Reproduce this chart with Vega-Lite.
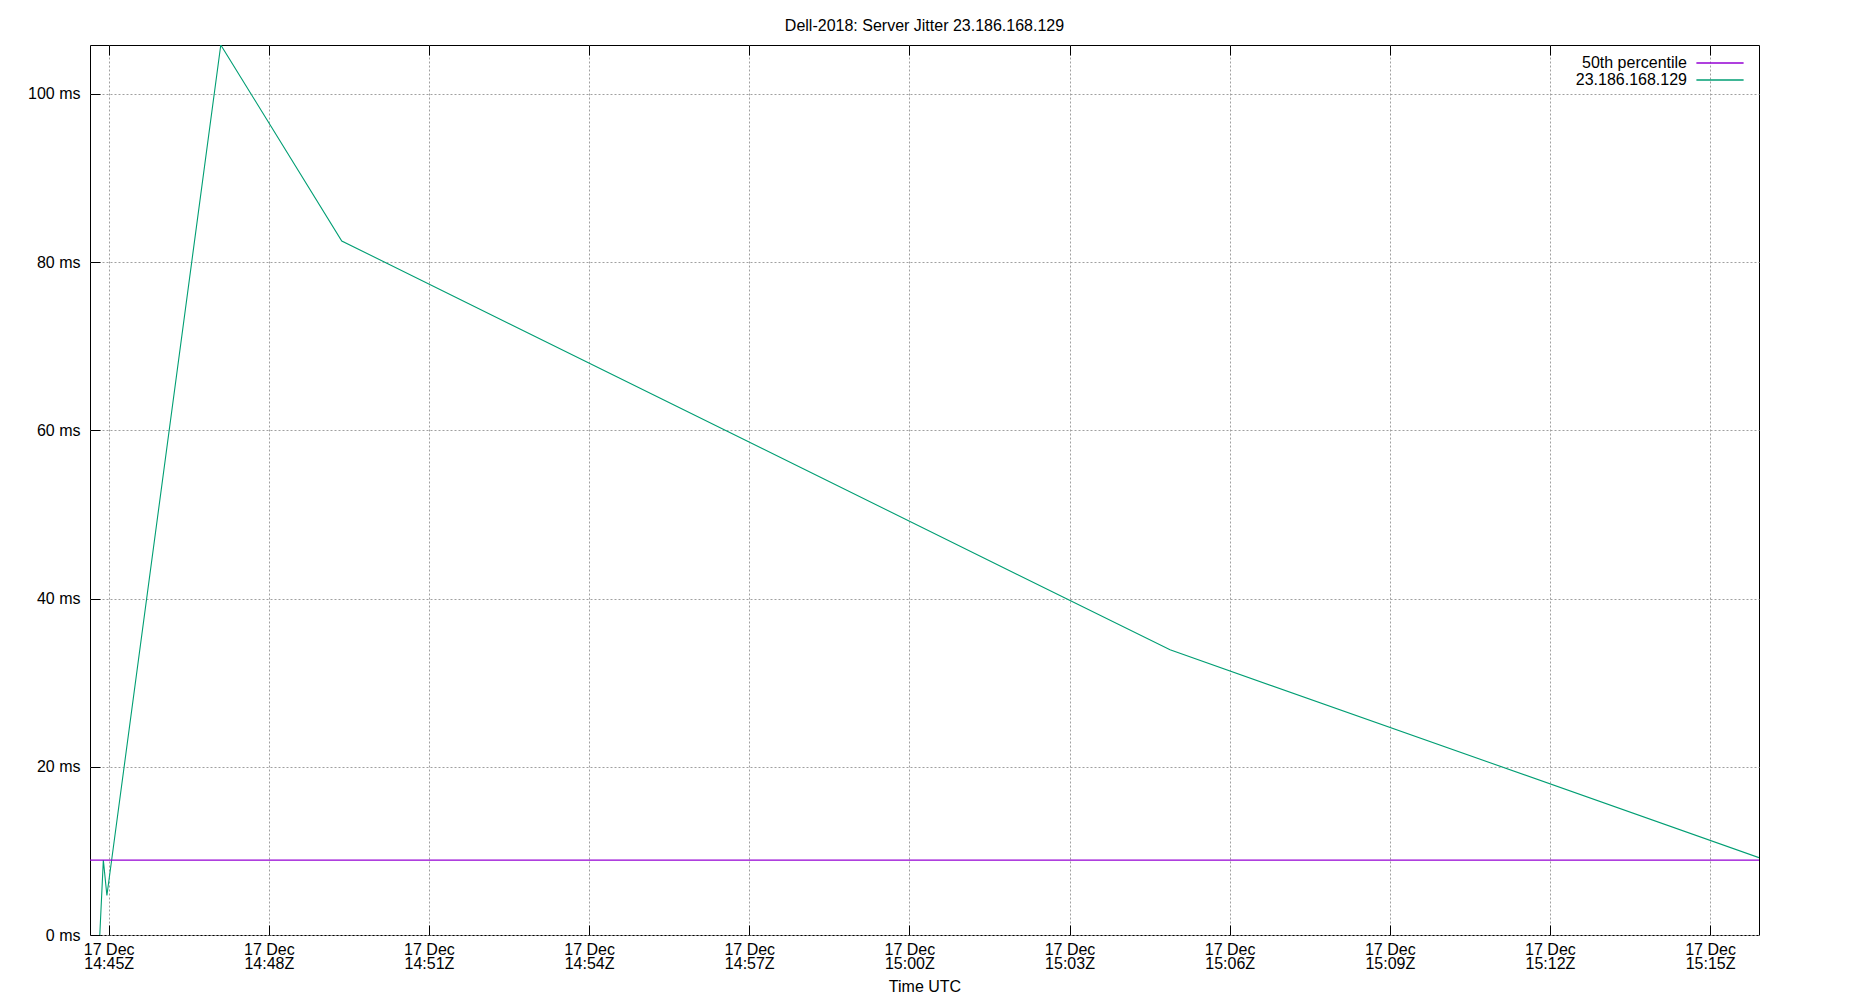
{
  "$schema": "https://vega.github.io/schema/vega-lite/v6.json",
  "width": 1669,
  "height": 890,
  "autosize": "none",
  "padding": {"left": 90, "top": 45, "right": 91, "bottom": 65},
  "background": "white",
  "title": {
    "text": "Dell-2018: Server Jitter 23.186.168.129",
    "font": "Liberation Sans",
    "fontSize": 16,
    "fontWeight": "normal",
    "color": "black",
    "anchor": "middle",
    "offset": 11
  },
  "config": {
    "view": {"stroke": "black", "strokeWidth": 1},
    "font": "Liberation Sans",
    "axis": {
      "labelFont": "Liberation Sans",
      "labelFontSize": 16,
      "labelColor": "black",
      "titleFont": "Liberation Sans",
      "titleFontSize": 16,
      "titleFontWeight": "normal",
      "titleColor": "black",
      "domain": false,
      "tickColor": "black",
      "tickSize": -10,
      "gridColor": "#a0a0a0",
      "gridDash": [2, 2],
      "gridWidth": 1
    }
  },
  "data": {
    "values": [
      {"time": "2023-12-17T14:44:50Z", "jitter": 0, "series": "23.186.168.129"},
      {"time": "2023-12-17T14:44:54Z", "jitter": 8.9, "series": "23.186.168.129"},
      {"time": "2023-12-17T14:44:58Z", "jitter": 4.7, "series": "23.186.168.129"},
      {"time": "2023-12-17T14:47:06Z", "jitter": 105.8, "series": "23.186.168.129"},
      {"time": "2023-12-17T14:49:22Z", "jitter": 82.5, "series": "23.186.168.129"},
      {"time": "2023-12-17T15:04:53Z", "jitter": 33.9, "series": "23.186.168.129"},
      {"time": "2023-12-17T15:15:55Z", "jitter": 9.2, "series": "23.186.168.129"},
      {"time": "2023-12-17T14:44:39Z", "jitter": 8.9, "series": "50th percentile"},
      {"time": "2023-12-17T15:15:55Z", "jitter": 8.9, "series": "50th percentile"}
    ]
  },
  "layer": [
    {
      "mark": {"type": "line", "strokeWidth": 1.1, "clip": true},
      "encoding": {
        "x": {
          "field": "time",
          "type": "temporal",
          "scale": {"type": "utc"},
          "axis": {
            "orient": "bottom",
            "title": "Time UTC",
            "titleY": 56,
            "titleBaseline": "alphabetic",
            "values": [
              {"utc": true, "year": 2023, "month": 12, "date": 17, "hours": 14, "minutes": 45},
              {"utc": true, "year": 2023, "month": 12, "date": 17, "hours": 14, "minutes": 48},
              {"utc": true, "year": 2023, "month": 12, "date": 17, "hours": 14, "minutes": 51},
              {"utc": true, "year": 2023, "month": 12, "date": 17, "hours": 14, "minutes": 54},
              {"utc": true, "year": 2023, "month": 12, "date": 17, "hours": 14, "minutes": 57},
              {"utc": true, "year": 2023, "month": 12, "date": 17, "hours": 15, "minutes": 0},
              {"utc": true, "year": 2023, "month": 12, "date": 17, "hours": 15, "minutes": 3},
              {"utc": true, "year": 2023, "month": 12, "date": 17, "hours": 15, "minutes": 6},
              {"utc": true, "year": 2023, "month": 12, "date": 17, "hours": 15, "minutes": 9},
              {"utc": true, "year": 2023, "month": 12, "date": 17, "hours": 15, "minutes": 12},
              {"utc": true, "year": 2023, "month": 12, "date": 17, "hours": 15, "minutes": 15}
            ],
            "labelExpr": "[utcFormat(datum.value, '%d %b'), utcFormat(datum.value, '%H:%MZ')]",
            "labelBaseline": "top",
            "labelLineHeight": 14,
            "labelPadding": 16,
            "labelFlush": false,
            "labelOverlap": false,
            "grid": true
          }
        },
        "y": {
          "field": "jitter",
          "type": "quantitative",
          "scale": {"domain": [0, 105.8], "nice": false},
          "axis": {
            "title": null,
            "values": [0, 20, 40, 60, 80, 100],
            "labelExpr": "datum.value + ' ms'",
            "labelPadding": 20,
            "grid": true
          }
        },
        "color": {
          "field": "series",
          "type": "nominal",
          "scale": {"domain": ["50th percentile", "23.186.168.129"], "range": ["#9400d3", "#009e73"]},
          "legend": {
            "title": null,
            "orient": "none",
            "legendX": 1621,
            "legendY": 9,
            "padding": 0,
            "symbolType": "M-2.95,0H2.95",
            "symbolSize": 256,
            "symbolStrokeWidth": 1.5,
            "labelAlign": "right",
            "labelOffset": -42,
            "labelFont": "Liberation Sans",
            "labelFontSize": 16,
            "labelColor": "black",
            "rowPadding": 0
          }
        }
      }
    },
    {
      "mark": {"type": "line", "opacity": 0},
      "encoding": {
        "x": {
          "field": "time",
          "type": "temporal",
          "axis": {
            "orient": "top",
            "title": null,
            "labels": false,
            "grid": false,
            "values": [
              {"utc": true, "year": 2023, "month": 12, "date": 17, "hours": 14, "minutes": 45},
              {"utc": true, "year": 2023, "month": 12, "date": 17, "hours": 14, "minutes": 48},
              {"utc": true, "year": 2023, "month": 12, "date": 17, "hours": 14, "minutes": 51},
              {"utc": true, "year": 2023, "month": 12, "date": 17, "hours": 14, "minutes": 54},
              {"utc": true, "year": 2023, "month": 12, "date": 17, "hours": 14, "minutes": 57},
              {"utc": true, "year": 2023, "month": 12, "date": 17, "hours": 15, "minutes": 0},
              {"utc": true, "year": 2023, "month": 12, "date": 17, "hours": 15, "minutes": 3},
              {"utc": true, "year": 2023, "month": 12, "date": 17, "hours": 15, "minutes": 6},
              {"utc": true, "year": 2023, "month": 12, "date": 17, "hours": 15, "minutes": 9},
              {"utc": true, "year": 2023, "month": 12, "date": 17, "hours": 15, "minutes": 12},
              {"utc": true, "year": 2023, "month": 12, "date": 17, "hours": 15, "minutes": 15}
            ]
          }
        },
        "y": {"field": "jitter", "type": "quantitative"}
      }
    }
  ],
  "resolve": {"axis": {"x": "independent"}}
}
